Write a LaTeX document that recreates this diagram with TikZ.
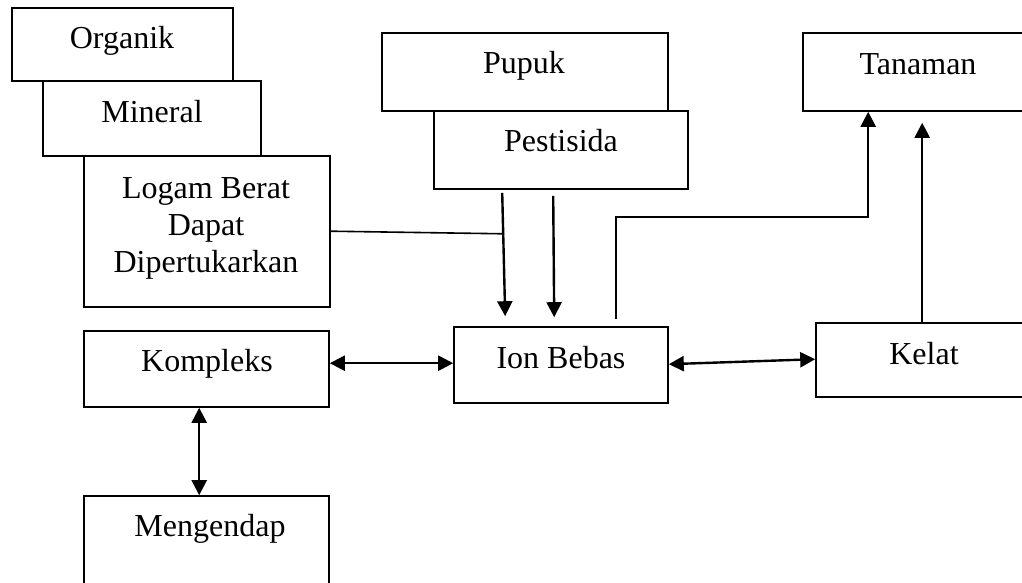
\documentclass[tikz,border=0pt]{standalone}
\usepackage{fontspec}
\setmainfont{Liberation Serif}
\usetikzlibrary{arrows.meta,fit,calc}
\tikzset{
  box/.style={draw, line width=0.8pt, inner sep=0pt},
  lbl/.style={font=\fontsize{16}{18.5}\selectfont, anchor=base, inner sep=0pt, align=center},
  ln/.style={line width=0.8pt},
  arr/.style={line width=1.2pt, -{Triangle[length=7.5pt,width=7.5pt]}},
  darr/.style={line width=1.2pt, {Triangle[length=7.5pt,width=7.5pt]}-{Triangle[length=7.5pt,width=7.5pt]}}
}
\begin{document}
\begin{tikzpicture}[x=0.5pt,y=-0.5pt]
\clip (0,0) rectangle (1022,583);
\fill[white] (0,0) rectangle (1022,583);
% boxes
\node[box, fit={(12,8) (233,81)}] (organik) {};
\node[box, fit={(43,81) (261,156)}] (mineral) {};
\node[box, fit={(84,156) (330,307)}] (logam) {};
\node[box, fit={(382,33) (668,111)}] (pupuk) {};
\node[box, fit={(434,111) (688,189)}] (pestisida) {};
\node[box, fit={(803,33) (1040,111)}] (tanaman) {};
\node[box, fit={(84,331) (329,407)}] (kompleks) {};
\node[box, fit={(454,327) (668,403)}] (ionbebas) {};
\node[box, fit={(816,323) (1040,397)}] (kelat) {};
\node[box, fit={(84,496) (329,610)}] (mengendap) {};
% labels
\node[lbl] (t-organik) at (122,49) {Organik};
\node[lbl] (t-mineral) at (152,123) {Mineral};
\node[lbl] (t-logam1) at (206,198) {Logam Berat};
\node[lbl] (t-logam2) at (206,235) {Dapat};
\node[lbl] (t-logam3) at (206,272) {Dipertukarkan};
\node[lbl] (t-pupuk) at (524,74) {Pupuk};
\node[lbl] (t-pestisida) at (561,151) {Pestisida};
\node[lbl] (t-tanaman) at (918,75) {Tanaman};
\node[lbl] (t-kelat) at (924,364) {Kelat};
\node[lbl] (t-ion) at (561,368) {Ion Bebas};
\node[lbl] (t-kompleks) at (207,371) {Kompleks};
\node[lbl] (t-mengendap) at (210,536) {Mengendap};
% connectors
\coordinate (j1) at ($(pestisida.south west)+(71,44)$);
\draw[ln] ($(logam.north east)+(0,76)$) -- (j1);
\draw[arr] ($(pestisida.south west)+(69,3)$) -- ($(ionbebas.north west)+(52,-10)$);
\draw[arr] ($(pestisida.south west)+(120,6)$) -- ($(ionbebas.north west)+(101,-9)$);
\draw[arr] ($(ionbebas.north west)+(163,-7)$) |- ($(tanaman.south west)+(66,105)$) -- ($(tanaman.south west)+(66,0)$);
\draw[arr] ($(kelat.north west)+(107,0)$) -- ($(tanaman.south west)+(120,11)$);
\draw[darr] ($(kompleks.north east)+(0,33)$) -- ($(ionbebas.north west)+(0,37)$);
\draw[darr] ($(ionbebas.north east)+(0,38)$) -- ($(kelat.north west)+(0,37)$);
\draw[darr] ($(kompleks.south west)+(116,0)$) -- ($(mengendap.north west)+(116,0)$);
\end{tikzpicture}
\end{document}
